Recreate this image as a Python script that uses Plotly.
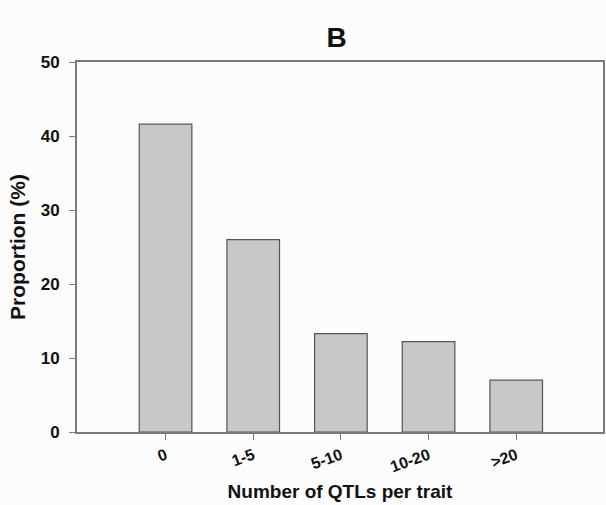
import plotly.graph_objects as go

# QTL count bins and share of traits in each bin
categories = ["0", "1-5", "5-10", "10-20", ">20"]
proportion = [41.6, 26.0, 13.3, 12.2, 7.0]

y_ticks = [0, 10, 20, 30, 40, 50]

font_family = "Liberation Sans, Arial, sans-serif"
axis_color = "#7a7a7a"

fig = go.Figure(
    go.Bar(
        x=list(range(len(categories))),
        y=proportion,
        width=0.6,
        marker=dict(color="#c8c8c8", line=dict(color="#555555", width=1.2)),
        hoverinfo="skip",
    )
)

fig.update_layout(
    width=606,
    height=505,
    margin=dict(l=77, r=1, t=62, b=73),
    paper_bgcolor="#fcfcfc",
    plot_bgcolor="#fcfcfc",
    showlegend=False,
    font=dict(family=font_family, color="#111111"),
    title=dict(
        text="<b>B</b>",
        x=336.5 / 606,
        xref="container",
        xanchor="center",
        y=1 - 47 / 505,
        yref="container",
        yanchor="bottom",
        font=dict(size=28, family=font_family, color="#111111"),
    ),
)

fig.update_xaxes(
    range=[-1.01, 4.99],
    tickmode="array",
    tickvals=list(range(len(categories))),
    ticktext=[f"<b>{c}</b>" for c in categories],
    tickangle=-20,
    tickfont=dict(size=16, family=font_family),
    ticks="outside",
    ticklen=6,
    tickcolor=axis_color,
    showline=True,
    linecolor=axis_color,
    linewidth=1.8,
    mirror=True,
    showgrid=False,
    zeroline=False,
    title=dict(
        text="<b>Number of QTLs per trait</b>",
        font=dict(size=19, family=font_family),
        standoff=10,
    ),
)

fig.update_yaxes(
    range=[0, 50],
    tickmode="array",
    tickvals=y_ticks,
    ticktext=[f"<b>{v}</b>" for v in y_ticks],
    tickfont=dict(size=17, family=font_family),
    ticks="outside",
    ticklen=6,
    ticklabelstandoff=6,
    tickcolor=axis_color,
    showline=True,
    linecolor=axis_color,
    linewidth=1.8,
    mirror=True,
    showgrid=False,
    zeroline=False,
    title=dict(
        text="<b>Proportion (%)</b>",
        font=dict(size=21, family=font_family),
        standoff=9,
    ),
)

fig.write_html("out.html")
